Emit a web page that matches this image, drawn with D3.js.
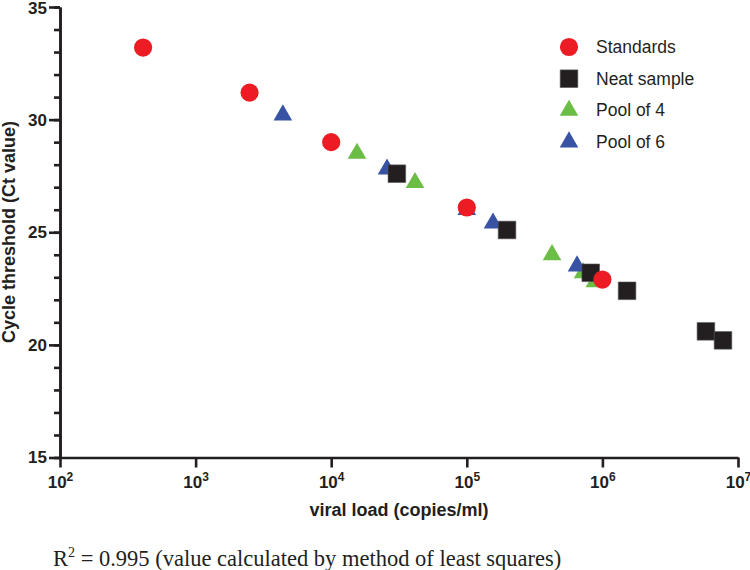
<!DOCTYPE html>
<html>
<head>
<meta charset="utf-8">
<script src="https://cdn.jsdelivr.net/npm/d3@7"></script>
<style>
  html, body { margin: 0; padding: 0; background: #fff; }
  svg { display: block; }
</style>
</head>
<body>
<svg id="chart" width="750" height="570"></svg>
<script>
// ---- Data ----
const seriesNames = ["Standards", "Neat sample", "Pool of 4", "Pool of 6"];
const standardsX = [410, 2500, 10000, 100000, 1000000];
const standardsY = [33.2, 31.2, 29.0, 26.1, 22.9];
const neatX = [30500, 198000, 820000, 1520000, 5800000, 7750000];
const neatY = [27.6, 25.1, 23.2, 22.4, 20.6, 20.2];
const pool4X = [15500, 41500, 425000, 720000, 880000];
const pool4Y = [28.5, 27.2, 24.0, 23.2, 22.8];
const pool6X = [4400, 25800, 100000, 156000, 650000];
const pool6Y = [30.2, 27.8, 26.0, 25.4, 23.5];
const xTickExps = [2, 3, 4, 5, 6, 7];
const yTicks = [15, 20, 25, 30, 35];
const yMinorTicks = d3.range(15, 36, 1);

const ink = "#231F20";
const colors = { "Standards": "#ED1C24", "Neat sample": "#231F20", "Pool of 4": "#6CBD45", "Pool of 6": "#3953A4" };
const shapes = { "Standards": d3.symbolCircle, "Neat sample": d3.symbolSquare, "Pool of 4": d3.symbolTriangle, "Pool of 6": d3.symbolTriangle };
const sizes = { "Standards": 260, "Neat sample": 310, "Pool of 4": 150, "Pool of 6": 150 };

const svg = d3.select("#chart");
const x = d3.scaleLog().domain([1e2, 1e7]).range([60, 738]);
const y = d3.scaleLinear().domain([15, 35]).range([457.5, 7]);

// ---- Axes ----
const yMinor = svg.append("g").attr("transform", "translate(60,0)")
  .call(d3.axisLeft(y).tickValues(yMinorTicks).tickSize(6).tickSizeOuter(0).tickFormat(""));
const yAxis = svg.append("g").attr("transform", "translate(60,0)")
  .call(d3.axisLeft(y).tickValues(yTicks).tickSize(11).tickSizeOuter(0).tickPadding(2).tickFormat(d3.format("d")));
const xAxis = svg.append("g").attr("transform", "translate(0,457.5)")
  .call(d3.axisBottom(x).tickValues(xTickExps.map(e => Math.pow(10, e))).tickSize(10).tickSizeOuter(0).tickFormat(""));

[yMinor, yAxis, xAxis].forEach(g => {
  g.selectAll("path.domain").attr("stroke", ink).attr("stroke-width", 2.6);
  g.selectAll(".tick line").attr("stroke", ink).attr("stroke-width", 2.6);
});
yAxis.selectAll(".tick text")
  .attr("fill", ink).style("font-family", "Liberation Sans, Arial, sans-serif")
  .style("font-size", "17px").style("font-weight", "bold");
// keep the top label inside the picture
yAxis.selectAll(".tick text").filter(d => d === 35).attr("dy", "0.38em").attr("y", 0);

// x tick labels with superscripts
xAxis.selectAll(".tick").each(function(d) {
  const t = d3.select(this).append("text")
    .attr("y", 30).attr("fill", ink).attr("text-anchor", "middle")
    .style("font-family", "Liberation Sans, Arial, sans-serif")
    .style("font-weight", "bold");
  t.append("tspan").style("font-size", "17px").text("10");
  t.append("tspan").attr("dy", -7).style("font-size", "12px").text(Math.round(Math.log10(d)));
});

// axis titles
svg.append("text")
  .attr("x", 399).attr("y", 516).attr("text-anchor", "middle").attr("fill", ink)
  .style("font-family", "Liberation Sans, Arial, sans-serif").style("font-size", "18px").style("font-weight", "bold")
  .text("viral load (copies/ml)");
svg.append("text")
  .attr("transform", "translate(15,232) rotate(-90)").attr("text-anchor", "middle").attr("fill", ink)
  .style("font-family", "Liberation Sans, Arial, sans-serif").style("font-size", "18px").style("font-weight", "bold")
  .text("Cycle threshold (Ct value)");

// ---- Points ----
const series = [
  { name: "Pool of 4", xs: pool4X, ys: pool4Y },
  { name: "Pool of 6", xs: pool6X, ys: pool6Y },
  { name: "Neat sample", xs: neatX, ys: neatY },
  { name: "Standards", xs: standardsX, ys: standardsY }
];
series.forEach(s => {
  const sym = d3.symbol().type(shapes[s.name]).size(sizes[s.name]);
  svg.append("g").selectAll("path")
    .data(s.xs.map((v, i) => [v, s.ys[i]]))
    .join("path")
    .attr("d", sym)
    .attr("transform", d => `translate(${x(d[0])},${y(d[1])})`)
    .attr("fill", colors[s.name])
    .attr("stroke", s.name === "Neat sample" ? "#555" : "none")
    .attr("stroke-width", 0.6);
});

// ---- Legend ----
const legend = svg.append("g").attr("transform", "translate(569,0)");
seriesNames.forEach((name, i) => {
  const base = 53 + i * 31.7;
  legend.append("path")
    .attr("d", d3.symbol().type(shapes[name]).size(sizes[name]))
    .attr("transform", `translate(0,${base - 6})`)
    .attr("fill", colors[name])
    .attr("stroke", name === "Neat sample" ? "#555" : "none").attr("stroke-width", 0.6);
  legend.append("text")
    .attr("x", 27).attr("y", base).attr("fill", ink)
    .style("font-family", "Liberation Sans, Arial, sans-serif").style("font-size", "17.5px")
    .text(name);
});

// ---- Footnote ----
const foot = svg.append("text")
  .attr("x", 53).attr("y", 566).attr("fill", ink)
  .style("font-family", "Liberation Serif, Times New Roman, serif").style("font-size", "22.5px");
foot.append("tspan").text("R");
foot.append("tspan").attr("dy", -9).style("font-size", "14px").text("2");
foot.append("tspan").attr("dy", 9).text(" = 0.995 (value calculated by method of least squares)");
</script>
</body>
</html>
